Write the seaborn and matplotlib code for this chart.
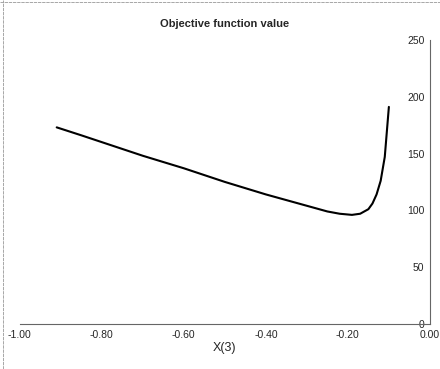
import numpy as np
import matplotlib.pyplot as plt
import seaborn as sns
import pandas as pd
from matplotlib.lines import Line2D

# values
x3 = [-0.91, -0.85, -0.80, -0.70, -0.60, -0.50, -0.40, -0.30, -0.25, -0.22,
      -0.19, -0.17, -0.15, -0.14, -0.13, -0.12, -0.11, -0.10]
objective = [173, 166, 160, 148, 137, 125, 114, 104, 99, 97,
             96, 97, 101, 106, 114, 126, 147, 191]
x_ticks = [-1.0, -0.8, -0.6, -0.4, -0.2, 0.0]
y_ticks = [0, 50, 100, 150, 200, 250]

df = pd.DataFrame({'X(3)': x3, 'value': objective})

sns.set_style('white')
plt.rcParams['font.family'] = ['Liberation Sans', 'DejaVu Sans']

fig = plt.figure(figsize=(4.4, 3.69), dpi=100)
ax = fig.add_axes([0.045, 0.122, 0.932, 0.77])

sns.lineplot(data=df, x='X(3)', y='value', ax=ax, color='black', linewidth=1.5)

# y axis sits at x = 0 (right edge), labels to its left
ax.spines['left'].set_position(('data', 0))
ax.spines['right'].set_visible(False)
ax.spines['top'].set_visible(False)
for s in ['left', 'bottom']:
    ax.spines[s].set_color('#666666')
    ax.spines[s].set_linewidth(0.8)

ax.set_xlim(-1.0, 0.0)
ax.set_ylim(0, 250)
ax.set_xticks(x_ticks)
ax.set_xticklabels([f'{v:.2f}' for v in x_ticks])
ax.set_yticks(y_ticks)
ax.set_yticklabels([str(v) for v in y_ticks])
ax.tick_params(axis='y', direction='inout', length=4, width=0.6, color='#666666',
               pad=2, labelsize=7.5)
ax.tick_params(axis='x', direction='inout', length=3, width=0.6, color='#666666',
               pad=3, labelsize=7.5)

ax.set_xlabel('X(3)', fontsize=9, labelpad=1)
ax.set_ylabel('')
ax.set_title('Objective function value', fontsize=8, fontweight='bold', pad=9)

# faint frame of the scanned chart
fig.add_artist(Line2D([0, 1], [0.995, 0.995], transform=fig.transFigure,
                      color='#999999', linewidth=0.6, linestyle=(0, (4, 1))))
fig.add_artist(Line2D([0.007, 0.007], [0, 1], transform=fig.transFigure,
                      color='#999999', linewidth=0.6, linestyle=(0, (4, 1))))

fig.savefig('out.png', dpi=100)
